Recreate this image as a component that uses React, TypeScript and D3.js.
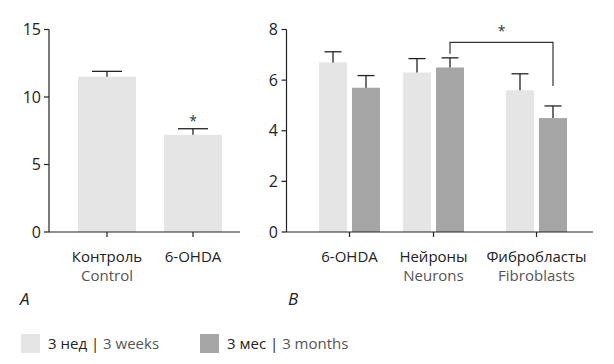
import React from "react";
import * as d3 from "d3";

const catsA = ["Контроль", "6-OHDA"];
const catsAEn = ["Control", ""];
const valsA = [11.5, 7.2];
const errA = [11.9, 7.65];
const ticksA = [0, 5, 10, 15];

const catsB = ["6-OHDA", "Нейроны", "Фибробласты"];
const catsBEn = ["", "Neurons", "Fibroblasts"];
const weeks = [6.7, 6.3, 5.6];
const weeksErr = [7.12, 6.85, 6.25];
const months = [5.7, 6.5, 4.5];
const monthsErr = [6.18, 6.88, 4.98];
const ticksB = [0, 2, 4, 6, 8];

const LIGHT = "#e5e5e5";
const DARK = "#a5a5a5";
const FONT = "'Open Sans', sans-serif";

export default function App() {
  const y0 = 232, y1 = 29.5;
  const yA = d3.scaleLinear().domain([0, 15]).range([y0, y1]);
  const yB = d3.scaleLinear().domain([0, 8]).range([y0, y1]);
  const xA = d3.scaleOrdinal<string, number>().domain(catsA).range([107, 193]);
  const xB = d3.scaleOrdinal<string, number>().domain(catsB).range([349.5, 433.5, 536.5]);
  const bwA = 58, bwB = 28, gapB = 5;
  const offB = (bwB + gapB) / 2;

  const axisStroke = "#222";
  return (
    <svg width={614} height={364} style={{ position: "absolute", left: 0, top: 0, background: "#fff" }} fontFamily={FONT}>
      {/* Panel A */}
      {catsA.map((c, i) => {
        const cx = xA(c);
        return (
          <g key={c}>
            <rect x={cx - bwA / 2} y={yA(valsA[i])} width={bwA} height={y0 - yA(valsA[i])} fill={LIGHT} />
            <line x1={cx} x2={cx} y1={yA(valsA[i])} y2={yA(errA[i])} stroke={axisStroke} strokeWidth={1.3} />
            <line x1={cx - 15} x2={cx + 15} y1={yA(errA[i])} y2={yA(errA[i])} stroke={axisStroke} strokeWidth={1.3} />
            <line x1={cx} x2={cx} y1={y0} y2={y0 + 5} stroke={axisStroke} strokeWidth={1.2} />
            <text x={cx} y={262} textAnchor="middle" fontSize={15} fill="#222">{c}</text>
            <text x={cx} y={281} textAnchor="middle" fontSize={15} fill="#555">{catsAEn[i]}</text>
          </g>
        );
      })}
      <text x={xA("6-OHDA")} y={yA(errA[1]) - 3} textAnchor="middle" fontSize={14} fill="#333">*</text>
      <line x1={49} x2={49} y1={y1} y2={y0} stroke={axisStroke} strokeWidth={1.2} />
      <line x1={49} x2={240} y1={y0} y2={y0} stroke={axisStroke} strokeWidth={1.2} />
      {ticksA.map(t => (
        <g key={t}>
          <line x1={44} x2={49} y1={yA(t)} y2={yA(t)} stroke={axisStroke} strokeWidth={1.2} />
          <text x={41} y={yA(t) + 5.5} textAnchor="end" fontSize={16} fill="#222">{t}</text>
        </g>
      ))}
      <text x={20} y={305} fontSize={17} fontStyle="italic" fill="#222">A</text>

      {/* Panel B */}
      {catsB.map((c, i) => {
        const cx = xB(c);
        const bars = [
          { v: weeks[i], e: weeksErr[i], col: LIGHT, x: cx - offB },
          { v: months[i], e: monthsErr[i], col: DARK, x: cx + offB },
        ];
        return (
          <g key={c}>
            {bars.map((b, j) => (
              <g key={j}>
                <rect x={b.x - bwB / 2} y={yB(b.v)} width={bwB} height={y0 - yB(b.v)} fill={b.col} />
                <line x1={b.x} x2={b.x} y1={yB(b.v)} y2={yB(b.e)} stroke={axisStroke} strokeWidth={1.3} />
                <line x1={b.x - 8.5} x2={b.x + 8.5} y1={yB(b.e)} y2={yB(b.e)} stroke={axisStroke} strokeWidth={1.3} />
              </g>
            ))}
            <line x1={cx} x2={cx} y1={y0} y2={y0 + 5} stroke={axisStroke} strokeWidth={1.2} />
            <text x={cx} y={262} textAnchor="middle" fontSize={15} fill="#222">{c}</text>
            <text x={cx} y={281} textAnchor="middle" fontSize={15} fill="#555">{catsBEn[i]}</text>
          </g>
        );
      })}
      {(() => {
        const xa = xB("Нейроны") + offB;
        const xb = xB("Фибробласты") + offB;
        const top = 42.3;
        return (
          <g>
            <path d={`M${xa},${yB(monthsErr[1]) - 4}V${top}H${xb}V${86}`} fill="none" stroke="#333" strokeWidth={1.2} />
            <text x={(xa + xb) / 2} y={36} textAnchor="middle" fontSize={14} fill="#333">*</text>
          </g>
        );
      })()}
      <line x1={286.5} x2={286.5} y1={y1} y2={y0} stroke={axisStroke} strokeWidth={1.2} />
      <line x1={286.5} x2={593} y1={y0} y2={y0} stroke={axisStroke} strokeWidth={1.2} />
      {ticksB.map(t => (
        <g key={t}>
          <line x1={281.5} x2={286.5} y1={yB(t)} y2={yB(t)} stroke={axisStroke} strokeWidth={1.2} />
          <text x={278} y={yB(t) + 5.5} textAnchor="end" fontSize={16} fill="#222">{t}</text>
        </g>
      ))}
      <text x={288} y={305} fontSize={17} fontStyle="italic" fill="#222">B</text>

      {/* Legend */}
      <rect x={21} y={334} width={19} height={19} fill={LIGHT} />
      <text x={48} y={348.5} fontSize={15} fill="#222">3 нед <tspan fill="#222">|</tspan> <tspan fill="#555">3 weeks</tspan></text>
      <rect x={200} y={334} width={19} height={19} fill={DARK} />
      <text x={227} y={348.5} fontSize={15} fill="#222">3 мес <tspan fill="#222">|</tspan> <tspan fill="#555">3 months</tspan></text>
    </svg>
  );
}
